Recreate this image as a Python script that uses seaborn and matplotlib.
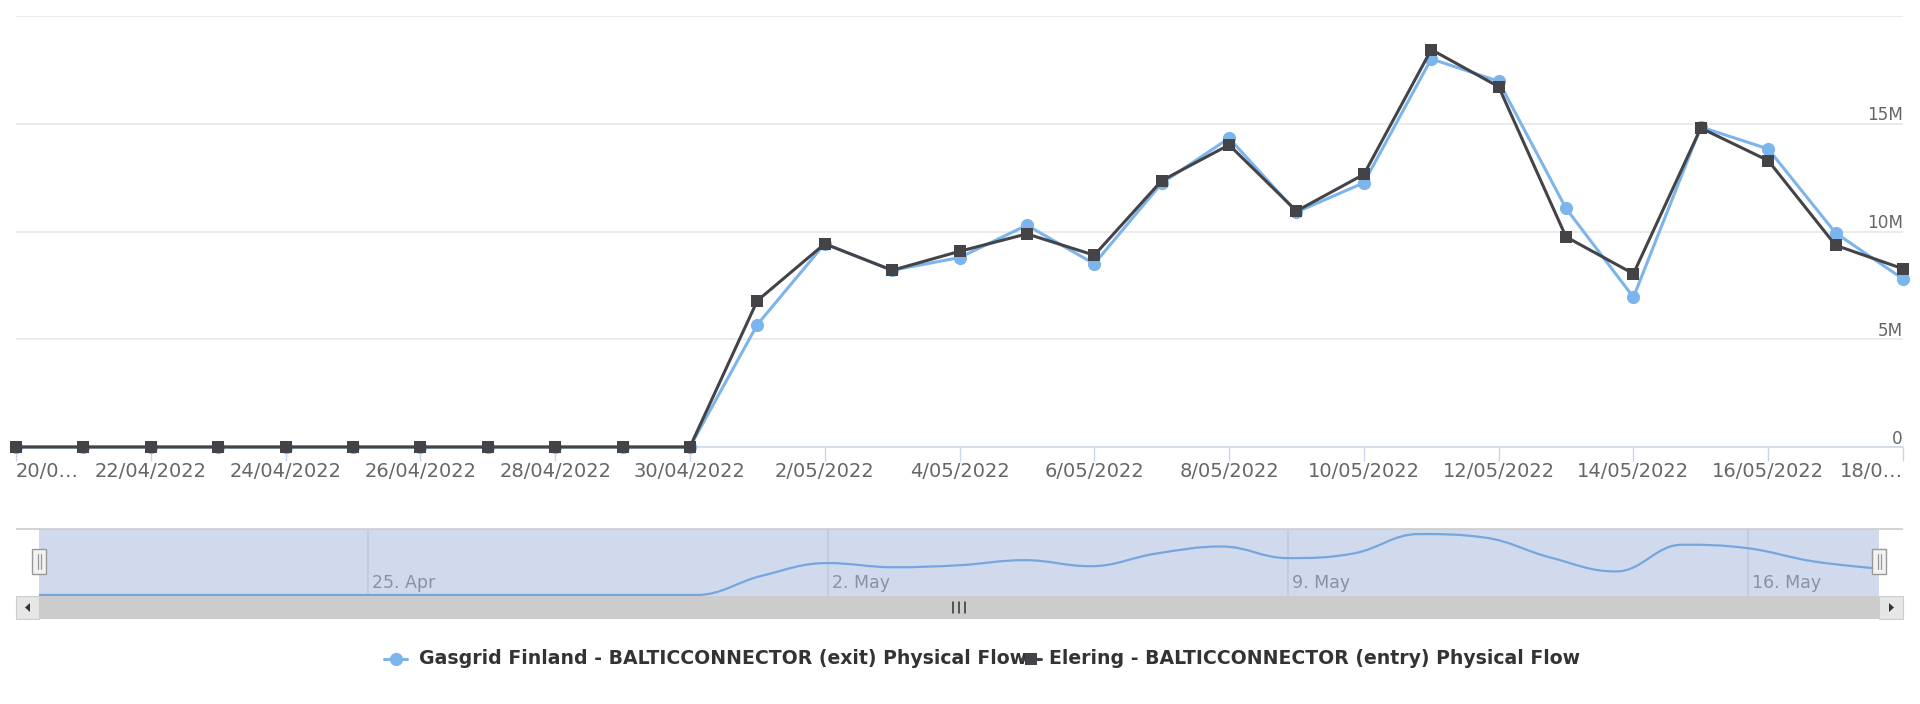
import numpy as np
import pandas as pd
import matplotlib
matplotlib.use("Agg")
import matplotlib.pyplot as plt
import matplotlib.dates as mdates
import seaborn as sns
from matplotlib.path import Path
from matplotlib.patches import PathPatch, Rectangle, Polygon
from matplotlib.lines import Line2D

# ---------------- data ----------------
dates = pd.date_range("2022-04-20", "2022-05-18", freq="D")
gasgrid = [0, 0, 0, 0, 0, 0, 0, 0, 0, 0, 0,
           5.68, 9.43, 8.20, 8.79, 10.29, 8.50, 12.24, 14.33, 10.90, 12.26,
           18.01, 16.97, 11.07, 6.95, 14.85, 13.83, 9.93, 7.80]
elering = [0, 0, 0, 0, 0, 0, 0, 0, 0, 0, 0,
           6.79, 9.43, 8.20, 9.08, 9.89, 8.90, 12.36, 14.02, 10.95, 12.65,
           18.44, 16.72, 9.75, 8.04, 14.80, 13.29, 9.36, 8.27]
series_names = ["Gasgrid Finland - BALTICCONNECTOR (exit) Physical Flow",
                "Elering - BALTICCONNECTOR (entry) Physical Flow"]
xtick_labels = ["20/0\u2026", "22/04/2022", "24/04/2022", "26/04/2022", "28/04/2022",
                "30/04/2022", "2/05/2022", "4/05/2022", "6/05/2022", "8/05/2022",
                "10/05/2022", "12/05/2022", "14/05/2022", "16/05/2022", "18/0\u2026"]
ytick_values = [0, 5, 10, 15]
ytick_labels = ["0", "5M", "10M", "15M"]
nav_tick_dates = pd.to_datetime(["2022-04-25", "2022-05-02", "2022-05-09", "2022-05-16"])
nav_tick_labels = ["25. Apr", "2. May", "9. May", "16. May"]

BLUE = "#7cb5ec"
DARK = "#434348"

sns.set_theme(style="white")
plt.rcParams["font.family"] = ["DejaVu Sans"]

W, H = 1920, 704
fig = plt.figure(figsize=(W / 100, H / 100), dpi=100)
fig.patch.set_facecolor("white")


def fx(px):
    return px / W


def fy(py):
    return (H - py) / H


# ---------------- main chart ----------------
ax = fig.add_axes([fx(16), fy(447), fx(1903) - fx(16), fy(16) - fy(447)])
ax.set_facecolor("white")
sns.lineplot(x=dates, y=gasgrid, ax=ax, color=BLUE, linewidth=2.2, marker="o",
             markersize=9.5, markeredgewidth=0, clip_on=False, zorder=3, legend=False)
sns.lineplot(x=dates, y=elering, ax=ax, color=DARK, linewidth=2.2, marker="s",
             markersize=9, markeredgewidth=0, clip_on=False, zorder=4, legend=False)

ax.set_xlim(dates[0], dates[-1])
ax.set_ylim(0, 20)
ax.set_yticks([0, 5, 10, 15, 20])
ax.yaxis.grid(True, color="#e6e6e6", linewidth=1.1)
ax.xaxis.grid(False)
ax.set_axisbelow(True)
ax.tick_params(axis="y", left=False, right=False, labelleft=False, labelright=False)
for s in ["top", "left", "right"]:
    ax.spines[s].set_visible(False)
ax.spines["bottom"].set_color("#ccd6eb")
ax.spines["bottom"].set_linewidth(1.1)
ax.set_xlabel("")
ax.set_ylabel("")

ax.set_xticks(dates[::2])
ax.set_xticklabels(xtick_labels)
ax.tick_params(axis="x", bottom=True, direction="out", length=10, width=1,
               color="#ccd6eb", pad=0.5, labelsize=14, labelcolor="#666666")
tl = ax.get_xticklabels()
tl[0].set_ha("left")
tl[-1].set_ha("right")

for v, lab in zip(ytick_values, ytick_labels):
    ax.annotate(lab, xy=(1, v), xycoords=("axes fraction", "data"),
                xytext=(0, 3.5), textcoords="offset pixels",
                ha="right", va="baseline", fontsize=12.2, color="#666666")

# ---------------- navigator ----------------
nav = fig.add_axes([fx(39), fy(596), fx(1879) - fx(39), fy(529) - fy(596)])
nav.set_facecolor("white")
xn = mdates.date2num(dates)
nav.set_xlim(xn[0], xn[-1])
nav.set_ylim(-0.3, 19.5)
for s in nav.spines.values():
    s.set_visible(False)
nav.set_xticks([])
nav.set_yticks([])

for d, lab in zip(nav_tick_dates, nav_tick_labels):
    nav.axvline(mdates.date2num(d), color="#e6e6e6", linewidth=1.1, zorder=1)
    nav.annotate(lab, xy=(mdates.date2num(d), 0.12), xycoords=("data", "axes fraction"),
                 xytext=(4, 0), textcoords="offset pixels", ha="left", va="baseline",
                 fontsize=12.5, color="#999999", zorder=2)

# Highcharts-style spline through the navigator series
ys = np.asarray(gasgrid, dtype=float)
n = len(xn)
sm, den = 1.5, 2.5
lc = [None] * n
rc = [None] * n
for i in range(1, n - 1):
    px, py = xn[i], ys[i]
    lx, ly = xn[i - 1], ys[i - 1]
    nx, ny = xn[i + 1], ys[i + 1]
    lcx, lcy = (sm * px + lx) / den, (sm * py + ly) / den
    rcx, rcy = (sm * px + nx) / den, (sm * py + ny) / den
    corr = 0.0
    if rcx != lcx:
        corr = (rcy - lcy) * (rcx - px) / (rcx - lcx) + py - rcy
    lcy += corr
    rcy += corr
    if lcy > ly and lcy > py:
        lcy = max(ly, py); rcy = 2 * py - lcy
    elif lcy < ly and lcy < py:
        lcy = min(ly, py); rcy = 2 * py - lcy
    if rcy > ny and rcy > py:
        rcy = max(ny, py); lcy = 2 * py - rcy
    elif rcy < ny and rcy < py:
        rcy = min(ny, py); lcy = 2 * py - rcy
    lc[i] = (lcx, lcy)
    rc[i] = (rcx, rcy)
verts = [(xn[0], ys[0])]
codes = [Path.MOVETO]
for i in range(1, n):
    c1 = rc[i - 1] if rc[i - 1] is not None else (xn[i - 1], ys[i - 1])
    c2 = lc[i] if lc[i] is not None else (xn[i], ys[i])
    verts += [c1, c2, (xn[i], ys[i])]
    codes += [Path.CURVE4] * 3
nav.add_patch(PathPatch(Path(verts, codes), fill=False, edgecolor=BLUE,
                        linewidth=1.6, zorder=3, clip_on=False))
# selection mask
nav.add_patch(Rectangle((0, 0), 1, 1, transform=nav.transAxes, facecolor="#6685c2",
                        alpha=0.3, edgecolor="none", zorder=10))

# ---------------- overlay (outline, scrollbar, handles, legend) ----------------
ov = fig.add_axes([0, 0, 1, 1])
ov.set_xlim(0, W)
ov.set_ylim(H, 0)
ov.axis("off")
ov.patch.set_alpha(0)

ov.plot([16, 1903], [529, 529], color="#cccccc", linewidth=1.2, solid_capstyle="butt")

# scrollbar
ov.add_patch(Rectangle((16, 596), 1887, 23, facecolor="#cccccc", edgecolor="none"))
ov.add_patch(Rectangle((16, 596), 23, 23, facecolor="#e6e6e6", edgecolor="#cccccc", linewidth=0.8))
ov.add_patch(Rectangle((1879, 596), 24, 23, facecolor="#e6e6e6", edgecolor="#cccccc", linewidth=0.8))
ov.add_patch(Polygon([(25, 607.5), (30, 603), (30, 612)], closed=True, facecolor="#333333", edgecolor="none"))
ov.add_patch(Polygon([(1894, 607.5), (1889, 603), (1889, 612)], closed=True, facecolor="#333333", edgecolor="none"))
for gx in (953, 959, 965):
    ov.plot([gx, gx], [602, 613], color="#333333", linewidth=1.1)

# navigator handles
for hx in (32, 1872):
    ov.add_patch(Rectangle((hx, 549), 14, 25, facecolor="#f2f2f2", edgecolor="#999999",
                           linewidth=1.0, zorder=5))
    for ix in (hx + 5.5, hx + 8.5):
        ov.plot([ix, ix], [554, 569], color="#999999", linewidth=0.9, zorder=6)

# legend
renderer = fig.canvas.get_renderer()
ly = 659
ov.add_line(Line2D([384, 407], [ly, ly], color=BLUE, linewidth=2.2, zorder=2))
ov.add_line(Line2D([395.5], [ly], color=BLUE, marker="o", markersize=9.5,
                   markeredgewidth=0, linestyle="none", zorder=2))
t1 = ov.text(419, ly, series_names[0], fontsize=12, fontweight="bold", color="#333333",
             ha="left", va="center", zorder=3)
w1 = t1.get_window_extent(renderer).width
fs = 12 * 603 / w1
t1.set_fontsize(fs)
ov.add_line(Line2D([1020, 1041], [ly, ly], color=DARK, linewidth=2.2, zorder=4))
ov.add_line(Line2D([1030.5], [ly], color=DARK, marker="s", markersize=9,
                   markeredgewidth=0, linestyle="none", zorder=4))
ov.text(1049, ly, series_names[1], fontsize=fs, fontweight="bold", color="#333333",
        ha="left", va="center", zorder=3)

fig.savefig("out.png", dpi=100, facecolor="white")
